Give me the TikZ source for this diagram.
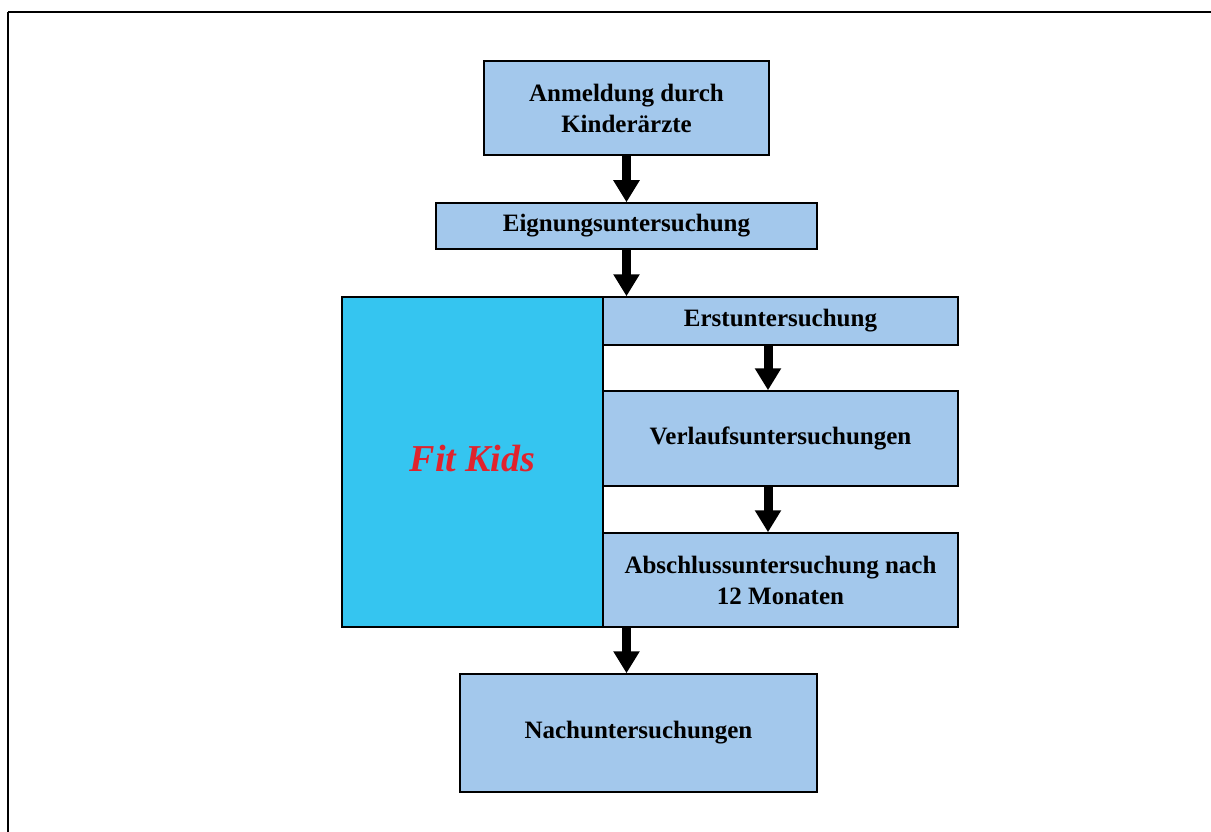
\documentclass[tikz,border=0pt]{standalone}
\usepackage{fontspec}
\setmainfont{Liberation Serif}
\usetikzlibrary{arrows.meta}

\definecolor{boxblue}{HTML}{A3C8EC}
\definecolor{fitcyan}{HTML}{35C5F0}
\definecolor{fitred}{HTML}{E0232D}

\begin{document}
\begin{tikzpicture}[x=1pt, y=-1pt,
    stage/.style={draw, line width=1.5pt, fill=boxblue, inner sep=0pt, align=center,
      font=\fontsize{25}{31}\selectfont\bfseries},
    flow/.style={line width=9pt, -{Triangle[length=22pt, width=25pt]}}]
  \useasboundingbox (0, 0) rectangle (1211, 832);
  \draw[line width=1.5pt] (8, 12) -- (1220, 12);
  \draw[line width=1.5pt] (8, 12) -- (8, 840);
  \node[stage, minimum width=285, minimum height=94] (anm) at (626.5, 108) {Anmeldung durch\\Kinderärzte};
  \node[stage, minimum width=381, minimum height=46] (eign) at (626.5, 226) {Eignungsuntersuchung};
  \node[stage, fill=fitcyan, minimum width=261, minimum height=330] (fit) at (472.5, 462)
    {\fontsize{38}{44}\selectfont\itshape\color{fitred}\raisebox{7pt}{Fit Kids}};
  \node[stage, minimum width=355, minimum height=48] (erst) at (780.5, 321) {Erstuntersuchung};
  \node[stage, minimum width=355, minimum height=95] (verl) at (780.5, 438.5) {Verlaufsuntersuchungen};
  \node[stage, minimum width=355, minimum height=94] (abs) at (780.5, 580) {Abschlussuntersuchung nach\\12 Monaten};
  \node[stage, minimum width=357, minimum height=118] (nach) at (638.5, 733) {Nachuntersuchungen};
  \coordinate (col) at (768, 0);
  \draw[flow] (anm.south -| eign.south) -- (eign.north);
  \draw[flow] (eign.south) -- (eign.south |- erst.north);
  \draw[flow] (col |- erst.south) -- (col |- verl.north);
  \draw[flow] (col |- verl.south) -- (col |- abs.north);
  \draw[flow] (eign.south |- abs.south) -- (eign.south |- nach.north);
\end{tikzpicture}
\end{document}
